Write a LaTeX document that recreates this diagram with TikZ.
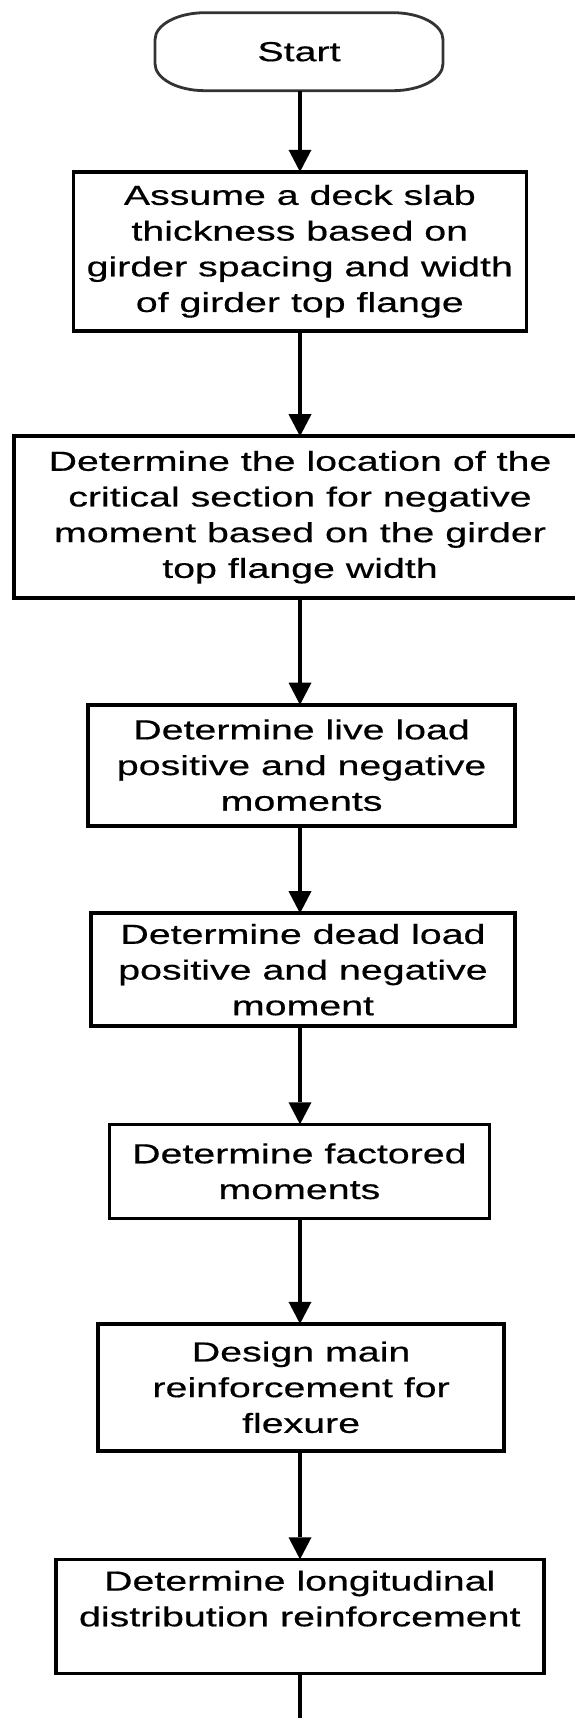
\documentclass[tikz,border=0pt]{standalone}
\usepackage{fontspec}
\usetikzlibrary{arrows.meta}
\newfontfamily\chartfont[FakeStretch=1.43,FakeBold=0.5]{Liberation Sans}

\tikzset{
  stepbox/.style={draw=black, line width=3.6pt, align=center, inner sep=0pt,
    outer sep=0pt, font=\chartfont\fontsize{27.5}{35.7}\selectfont},
  flowarrow/.style={draw=black, line width=3.6pt,
    -{Triangle[width=23pt,length=22pt,line width=0pt]}},
  flowline/.style={draw=black, line width=3.6pt},
  ovalline/.style={draw=black!80, line width=2.8pt}
}

\begin{document}
\begin{tikzpicture}[x=1pt,y=1pt]
  \path[use as bounding box] (0,0) rectangle (575,-1718);
  \clip (0,0) rectangle (575,-1718);
  \fill[white] (0,0) rectangle (575,-1718);

  % common vertical axis of the flow
  \coordinate (axis) at (300,0);

  % terminal
  \node[stepbox, draw=none, minimum width=288pt, minimum height=78pt] (start) at (299,-51.7) {Start};
  \draw[ovalline]
    ([xshift=50pt]start.north west) -- ([xshift=-50pt]start.north east)
    arc[start angle=90, end angle=0, x radius=50pt, y radius=27pt]
    -- ([yshift=27pt]start.south east)
    arc[start angle=0, end angle=-90, x radius=50pt, y radius=27pt]
    -- ([xshift=50pt]start.south west)
    arc[start angle=270, end angle=180, x radius=50pt, y radius=27pt]
    -- ([yshift=-27pt]start.north west)
    arc[start angle=180, end angle=90, x radius=50pt, y radius=27pt]
    -- cycle;

  % process steps
  \node[stepbox, minimum width=453pt, minimum height=159pt] (thick) at (299.8,-251.3)
    {Assume a deck slab\\thickness based on\\girder spacing and width\\of girder top flange};
  \node[stepbox, minimum width=572pt, minimum height=162pt] (crit) at (300,-517.2)
    {Determine the location of the\\critical section for negative\\moment based on the girder\\top flange width};
  \node[stepbox, minimum width=427pt, minimum height=121pt] (live) at (301.6,-765.2)
    {Determine live load\\positive and negative\\moments};
  \node[stepbox, minimum width=424pt, minimum height=113pt] (dead) at (303,-969.7)
    {Determine dead load\\positive and negative\\moment};
  \node[stepbox, minimum width=380pt, minimum height=94pt] (fact) at (299.4,-1171.3)
    {Determine factored\\moments};
  \node[stepbox, minimum width=406pt, minimum height=127pt] (main) at (301.1,-1387.3)
    {Design main\\reinforcement for\\flexure};
  \node[stepbox, minimum width=488pt, minimum height=114pt] (dist) at (299.8,-1616.3)
    {Determine longitudinal\\distribution reinforcement\\\mbox{}};

  \coordinate (exit) at (300,-1730);

  % connectors
  \draw[flowarrow] (start.south -| axis) -- (thick.north -| axis);
  \draw[flowarrow] (thick.south -| axis) -- (crit.north -| axis);
  \draw[flowarrow] (crit.south -| axis) -- (live.north -| axis);
  \draw[flowarrow] (live.south -| axis) -- (dead.north -| axis);
  \draw[flowarrow] (dead.south -| axis) -- (fact.north -| axis);
  \draw[flowarrow] (fact.south -| axis) -- (main.north -| axis);
  \draw[flowarrow] (main.south -| axis) -- (dist.north -| axis);
  \draw[flowline] (dist.south -| axis) -- (exit);
\end{tikzpicture}
\end{document}
